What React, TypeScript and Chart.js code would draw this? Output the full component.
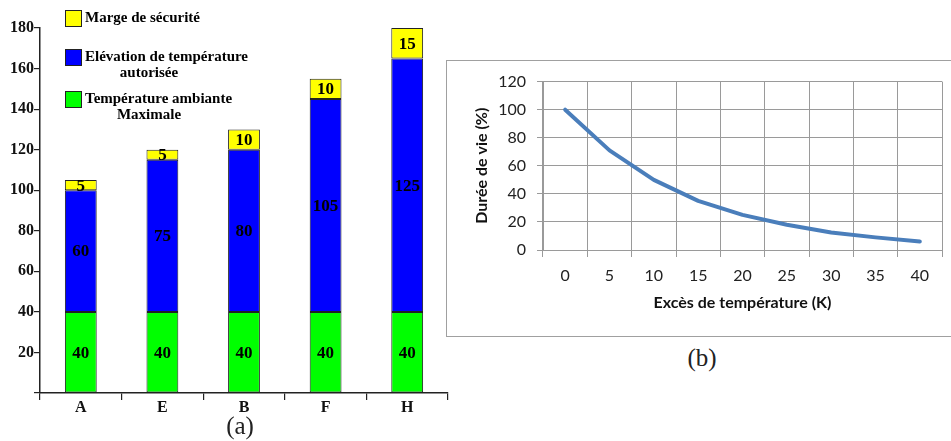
import React, { useEffect, useRef } from "react";
import { Chart, registerables } from "chart.js";

Chart.register(...registerables);

// ---- Chart (a) data ----
const categories = ["A", "E", "B", "F", "H"];
const ambiante = [40, 40, 40, 40, 40];
const elevation = [60, 75, 80, 105, 125];
const marge = [5, 5, 10, 10, 15];
const seriesLabels = [
  "Température ambiante\nMaximale",
  "Elévation de température\nautorisée",
  "Marge de sécurité",
];
const seriesColors = ["#00FF00", "#0000FF", "#FFFF00"];

// ---- Chart (b) data ----
const excesLabels = ["0", "5", "10", "15", "20", "25", "30", "35", "40"];
const dureeVie = [100, 71, 50, 35, 25, 18, 12.5, 9, 6];

const SERIF = "'Liberation Serif', 'Times New Roman', serif";
const SANS = "Lato, 'Noto Sans', sans-serif";

const barValueLabels = {
  id: "barValueLabels",
  afterDatasetsDraw(chart: any) {
    const ctx = chart.ctx;
    ctx.save();
    ctx.font = `bold 17px ${SERIF}`;
    ctx.fillStyle = "#000";
    ctx.textAlign = "center";
    ctx.textBaseline = "middle";
    chart.data.datasets.forEach((ds: any, i: number) => {
      const meta = chart.getDatasetMeta(i);
      meta.data.forEach((el: any, j: number) => {
        const p = el.getProps(["x", "y", "base"], true);
        ctx.fillText(String(ds.data[j]), p.x, (p.y + p.base) / 2 + 1);
      });
    });
    ctx.restore();
  },
};

const customLegend = {
  id: "customLegend",
  afterDraw(chart: any) {
    const ctx = chart.ctx;
    const tops = [10, 49, 91];
    const order = [2, 1, 0];
    ctx.save();
    ctx.font = `bold 15px ${SERIF}`;
    ctx.textBaseline = "middle";
    order.forEach((di, k) => {
      const ds = chart.data.datasets[di];
      const top = tops[k];
      ctx.fillStyle = ds.backgroundColor;
      ctx.fillRect(65, top, 16, 16);
      ctx.strokeStyle = "#222";
      ctx.lineWidth = 1;
      ctx.strokeRect(65.5, top + 0.5, 16, 16);
      const lines = String(ds.label).split("\n");
      ctx.fillStyle = "#000";
      ctx.textAlign = "left";
      ctx.fillText(lines[0], 85, top + 8);
      if (lines[1]) {
        ctx.textAlign = "center";
        ctx.fillText(lines[1], 149, top + 24);
      }
    });
    ctx.restore();
  },
};

function BarChart() {
  const ref = useRef<HTMLCanvasElement>(null);
  useEffect(() => {
    const chart = new Chart(ref.current as HTMLCanvasElement, {
      type: "bar",
      data: {
        labels: categories,
        datasets: [ambiante, elevation, marge].map((d, i) => ({
          label: seriesLabels[i],
          data: d,
          backgroundColor: seriesColors[i],
          borderColor: "#222",
          borderWidth: 1,
          borderSkipped: false,
          barPercentage: 0.39,
          categoryPercentage: 1,
        })),
      },
      options: {
        responsive: false,
        animation: false,
        layout: { padding: { top: 28, right: 4, left: 0, bottom: 0 } },
        plugins: { legend: { display: false }, tooltip: { enabled: false } },
        scales: {
          x: {
            stacked: true,
            offset: true,
            grid: { offset: true, drawOnChartArea: false, tickLength: 7, color: "#222", lineWidth: 1.2 },
            border: { color: "#222", width: 1.5 },
            ticks: { color: "#111", font: { family: SERIF, size: 16, weight: "bold" }, padding: -2 },
            afterFit: (s: any) => { s.height = 48; },
          },
          y: {
            stacked: true,
            min: 0,
            max: 180,
            grid: { drawOnChartArea: false, tickLength: 6, color: "#222", lineWidth: 1.2 },
            border: { color: "#222", width: 1.5 },
            ticks: {
              stepSize: 20,
              color: "#111",
              padding: 0,
              font: { family: SERIF, size: 16, weight: "bold" },
              callback: (v: any) => (v === 0 ? "" : String(v)),
            },
            afterFit: (s: any) => { s.width = 40; },
          },
        },
      } as any,
      plugins: [barValueLabels, customLegend],
    });
    return () => chart.destroy();
  }, []);
  return (
    <canvas
      ref={ref}
      width={452}
      height={441}
      style={{ position: "absolute", left: 0, top: 0, width: 452, height: 441 }}
    />
  );
}

function LineChart() {
  const ref = useRef<HTMLCanvasElement>(null);
  useEffect(() => {
    const grid = "#9a9a9a";
    const chart = new Chart(ref.current as HTMLCanvasElement, {
      type: "line",
      data: {
        labels: excesLabels,
        datasets: [
          {
            label: "Durée de vie (%)",
            data: dureeVie,
            borderColor: "#4A7EBB",
            borderWidth: 4,
            pointRadius: 0,
            tension: 0,
            borderCapStyle: "round",
            borderJoinStyle: "round",
            fill: false,
          },
        ],
      },
      options: {
        responsive: false,
        animation: false,
        layout: { padding: { top: 20, right: 9, left: 0, bottom: 0 } },
        plugins: { legend: { display: false }, tooltip: { enabled: false } },
        scales: {
          x: {
            offset: true,
            grid: { offset: true, color: grid, lineWidth: 1, tickLength: 7 },
            border: { color: grid, width: 1 },
            ticks: { color: "#222", font: { family: SANS, size: 16 }, padding: 9 },
            title: {
              display: true,
              text: "Excès de température (K)",
              color: "#111",
              font: { family: SANS, size: 16, weight: "bold" },
              padding: { top: 0, bottom: 23 },
            },
            afterFit: (s: any) => { s.height = 85; },
          },
          y: {
            min: 0,
            max: 120,
            grid: { color: grid, lineWidth: 1, tickLength: 6 },
            border: { color: grid, width: 1 },
            ticks: { stepSize: 20, color: "#222", font: { family: SANS, size: 16 }, padding: 11 },
            title: {
              display: true,
              text: "Durée de vie (%)",
              color: "#111",
              font: { family: SANS, size: 16, weight: "bold" },
              padding: { top: 25, bottom: 0 },
            },
            afterFit: (s: any) => { s.width = 96; },
          },
        },
      } as any,
    });
    return () => chart.destroy();
  }, []);
  return (
    <canvas
      ref={ref}
      width={504}
      height={274}
      style={{ position: "absolute", left: 447, top: 61, width: 504, height: 274 }}
    />
  );
}

export default function App() {
  return (
    <div
      style={{
        position: "fixed",
        left: 0,
        top: 0,
        width: 951,
        height: 441,
        overflow: "hidden",
        background: "#fff",
      }}
    >
      <BarChart />
      <div
        style={{
          position: "absolute",
          left: 446,
          top: 60,
          width: 520,
          height: 275,
          border: "1px solid #a0a0a0",
          boxSizing: "content-box",
        }}
      />
      <LineChart />
      <div
        style={{
          position: "absolute",
          left: 200,
          top: 411,
          width: 80,
          textAlign: "center",
          fontFamily: SERIF,
          fontSize: 25,
          lineHeight: "30px",
          color: "#222",
        }}
      >
        (a)
      </div>
      <div
        style={{
          position: "absolute",
          left: 662,
          top: 343,
          width: 80,
          textAlign: "center",
          fontFamily: SERIF,
          fontSize: 25,
          lineHeight: "30px",
          color: "#222",
        }}
      >
        (b)
      </div>
    </div>
  );
}
